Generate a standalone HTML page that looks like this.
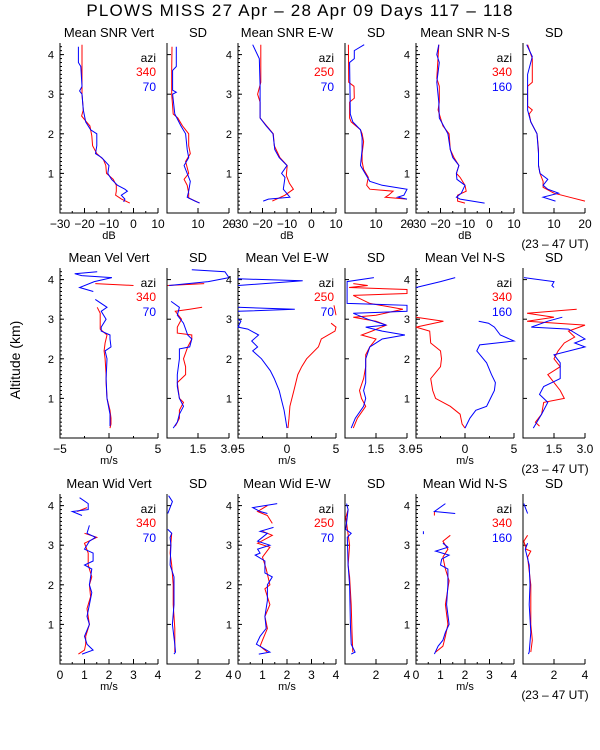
<!DOCTYPE html>
<html><head><meta charset="utf-8"><style>
body{margin:0;background:#fff;width:600px;height:750px;overflow:hidden}
svg{display:block;font-family:"Liberation Sans",sans-serif}
</style></head><body>
<svg id="chart" width="600" height="750" viewBox="0 0 600 750">
<rect width="600" height="750" fill="#fff"/>
<text x="300" y="16" text-anchor="middle" font-size="17" letter-spacing="1.2" fill="#000">PLOWS MISS  27 Apr – 28 Apr 09 Days 117 – 118</text>
<text transform="translate(20,360) rotate(-90)" text-anchor="middle" font-size="14" fill="#000">Altitude (km)</text>
<g id="plots"></g>
</svg>
<script>
// ---- data: [altitude km, value], null = gap ----
const snrVertRed=[[4.25,-21],[3.2,-21],[3.0,-21],[2.6,-20.5],[2.45,-21.2],[2.3,-19.2],[2.2,-17.8],[1.95,-17],[1.7,-16.7],[1.5,-15],[1.35,-12.3],[1.2,-11.3],[1.0,-11],[0.85,-8.3],[0.7,-7],[0.55,-7],[0.45,-7.3],[0.35,-4.9],[0.25,-1.5]];
const snrVertBlue=[[4.2,-22.5],[3.8,-22.5],[3.7,-21.5],[3.2,-21],[3.08,-22],[3.0,-21],[2.6,-20.5],[2.3,-19.5],[2.1,-17.5],[2.0,-15],[1.7,-15],[1.5,-15.5],[1.4,-13],[1.2,-10],[1.0,-10.5],[0.85,-9],[0.7,-6.5],[0.6,-3.5],[0.55,-2.5],[0.45,-5],[0.35,-3.5],[0.28,-4]];
const snrVertSdRed=[[4.2,1.6],[3.6,1.5],[3.0,1.5],[2.5,2],[2.4,3.5],[2.2,5],[2.0,7],[1.7,7],[1.5,7.5],[1.3,6],[1.0,7],[0.85,5.5],[0.7,6.5],[0.5,7],[0.38,7],[0.25,10.5]];
const snrVertSdBlue=[[4.2,3],[3.7,3],[3.6,1.8],[3.1,1.8],[3.05,3],[3.0,1.8],[2.5,2.5],[2.2,4.5],[2.0,6],[1.6,6.5],[1.4,7],[1.2,5.5],[1.0,6.5],[0.8,7.5],[0.55,7],[0.4,6.5],[0.3,9],[0.25,10.5]];
const snrEwRed=[[4.25,-20.7],[3.3,-20.7],[3.0,-22],[2.8,-21],[2.4,-21],[2.2,-18.3],[2.0,-15.6],[1.7,-15.2],[1.4,-12.9],[1.2,-9.9],[0.95,-10.3],[0.75,-9],[0.6,-7.4],[0.45,-10.8],[0.3,-16]];
const snrEwBlue=[[4.25,-24],[3.9,-21.3],[3.2,-21],[2.4,-21],[2.2,-18.5],[2.0,-15.7],[1.6,-15],[1.4,-13.2],[1.2,-10],[1.0,-12.2],[0.9,-10.8],[0.6,-11.5],[0.4,-8.8],[0.35,-17.6],[0.3,-19.7]];
const snrEwSdRed=[[4.25,1.1],[3.3,1.2],[3.2,2.9],[2.9,3],[2.8,1.5],[2.4,1.5],[2.3,2],[2.1,5],[2.0,5.5],[1.8,6],[1.5,5.5],[1.3,5.5],[1.1,6],[0.9,7.5],[0.7,7],[0.6,8],[0.55,15.5],[0.45,14],[0.4,13],[0.35,20]];
const snrEwSdBlue=[[4.25,6.2],[4.1,3],[3.9,3],[3.8,1.5],[2.5,1.7],[2.3,2.5],[2.1,5],[1.9,5.5],[1.6,5.5],[1.2,5],[1.0,6.5],[0.8,8],[0.7,12],[0.6,20],[0.45,19],[0.4,17],[0.35,20]];
const snrNsRed=[[4.25,-20.7],[3.4,-21.5],[3.2,-20.5],[2.8,-20.5],[2.6,-21],[2.2,-19],[2.0,-16.5],[1.6,-16],[1.4,-14.5],[1.2,-12.5],[1.0,-13.5],[0.9,-12],[0.7,-10],[0.55,-9.5],[0.45,-13],[0.3,-13],[0.25,-10]];
const snrNsBlue=[[4.25,-20.7],[4.0,-21.5],[3.8,-20.5],[3.3,-21.5],[2.8,-20.7],[2.4,-20.5],[2.0,-17],[1.6,-16],[1.4,-15],[1.2,-12.5],[1.0,-13.5],[0.85,-13.3],[0.7,-10],[0.5,-11.5],[0.4,-13.5],[0.35,-12],[0.25,-2]];
const snrNsSdRed=[[4.25,1.5],[3.9,3],[3.3,3],[3.2,1.5],[2.7,1.5],[2.6,3],[2.5,2],[2.3,2.5],[2.0,4.5],[1.6,5],[1.4,5],[1.2,5],[1.0,5.5],[0.8,6.5],[0.65,6.5],[0.5,10],[0.4,15],[0.3,20]];
const snrNsSdBlue=[[4.25,1.2],[3.95,3],[3.5,1.5],[2.6,1.5],[2.3,2.5],[2.0,4.5],[1.5,5],[1.2,5],[1.0,5.5],[0.85,8],[0.7,6.5],[0.6,8],[0.5,11.5],[0.4,6.5],[0.3,10.5]];
const velVertRed=[[3.9,-1.4],[3.85,2.5],null,[3.3,-1.2],[3.15,-0.9],[2.75,-0.9],[2.6,-0.2],[2.4,-0.4],[2.2,-0.5],[2.0,-0.4],[1.6,-0.3],[1.4,-0.3],[1.0,-0.2],[0.7,0.1],[0.5,0.2],[0.35,0.2],[0.25,0.1]];
const velVertBlue=[[4.2,-1.2],[4.15,-3.5],[4.1,-2.8],[4.05,0.3],[3.95,-1.5],[3.8,-3.0],[3.7,-1.6],null,[3.5,-1.4],[3.3,-0.2],[3.2,-0.8],[3.0,-0.3],[2.8,-0.8],[2.7,-0.8],[2.6,0.1],[2.5,0.1],[2.3,0.2],[2.2,-0.4],[2.0,-0.2],[1.5,-0.3],[1.0,-0.2],[0.6,0.1],[0.3,0.1]];
const velVertSdRed=[[3.9,1.8],[3.85,0.03],null,[3.3,1.7],[3.25,1.1],[3.2,0.4],[3.0,0.7],[2.8,0.5],[2.65,0.5],[2.6,1.2],[2.5,1.2],[2.3,1.0],[2.0,0.8],[1.8,0.9],[1.6,0.9],[1.4,0.5],[1.0,0.6],[0.9,0.8],[0.7,0.6],[0.5,0.6],[0.3,0.4]];
const velVertSdBlue=[[4.25,1.2],[4.2,2.8],[4.05,3.0],[3.95,2.0],[3.85,0.1],null,[3.45,0.2],[3.3,0.6],[3.1,0.5],[2.9,0.8],[2.6,1.0],[2.5,1.2],[2.3,1.1],[2.25,0.6],[2.0,0.6],[1.6,0.5],[1.3,0.5],[1.0,0.6],[0.8,0.8],[0.6,0.6],[0.4,0.5],[0.25,0.3]];
const velEwRed=[[3.35,4.8],[3.1,5],null,[2.9,4.5],[2.8,5],[2.7,4.9],[2.5,3.5],[2.3,3.2],[2.0,2.0],[1.8,1.5],[1.6,1.1],[1.2,0.7],[0.8,0.3],[0.5,0.2],[0.25,0.1]];
const velEwBlue=[[4.02,-5],[3.97,1.6],[3.85,-5],null,[3.3,-5],[3.25,0.8],[3.2,-5],null,[3.0,-5],[2.95,-4.7],[2.8,-5],[2.75,-4],[2.6,-2.9],[2.45,-3.6],[2.3,-3.0],[2.2,-3.5],[2.0,-2.6],[1.7,-1.7],[1.5,-1.3],[1.2,-0.8],[1.0,-0.6],[0.7,-0.3],[0.25,0]];
const velEwSdRed=[[3.9,0.4],[3.85,1.1],[3.8,0.2],[3.75,3],[3.65,3],[3.6,0.4],[3.4,1.2],[3.25,2.8],[3.1,1.5],[3.05,0.4],[2.95,1.5],[2.85,2.0],[2.7,1.3],[2.6,0.8],[2.5,1.5],[2.3,1.2],[2.1,1.0],[1.8,1.0],[1.5,0.9],[1.2,0.7],[1.0,0.8],[0.8,1.0],[0.5,0.6],[0.25,0.4]];
const velEwSdBlue=[[4.05,1.4],[3.95,0.1],[3.4,0.1],[3.35,3.0],[3.2,3.0],[3.15,0.4],[3.0,1.1],[2.85,2.0],[2.8,1.0],[2.7,1.8],[2.6,2.9],[2.5,1.8],[2.3,1.2],[2.0,1.0],[1.7,1.0],[1.4,1.0],[1.2,0.9],[1.0,1.0],[0.8,0.9],[0.5,0.5],[0.25,0.3]];
const velNsRed=[[3.05,-5],[2.95,-2.2],[2.8,-5],[2.7,-3.6],[2.4,-3.5],[2.2,-2.5],[2.0,-2.4],[1.8,-2.5],[1.5,-3.5],[1.2,-3.3],[1.0,-3.0],[0.8,-1.5],[0.6,-0.5],[0.35,-0.3],[0.25,0]];
const velNsBlue=[[4.05,-1.0],[3.95,-2.5],[3.8,-5],null,[2.95,1.4],[2.9,2.4],[2.8,3.0],[2.6,3.6],[2.45,5],[2.35,1.5],[2.2,1.2],[1.9,2.2],[1.6,2.7],[1.4,3.1],[1.2,3.0],[1.0,2.6],[0.8,2.2],[0.7,1.1],[0.5,0.5],[0.25,0]];
const velNsSdRed=[[3.25,2.6],[3.15,0.2],[3.05,1.5],[2.95,0.2],[2.85,3.0],[2.7,2.2],[2.55,2.5],[2.4,2.0],[2.2,1.7],[2.0,1.5],[1.8,1.8],[1.6,1.2],[1.2,1.8],[1.0,2.0],[0.9,1.0],[0.6,0.9],[0.4,0.6],[0.3,0.8]];
const velNsSdBlue=[[4.05,0.05],[3.95,1.5],[3.85,1.4],[3.8,1.5],null,[3.05,1.9],[2.95,1.2],[2.8,0.4],[2.75,2.2],[2.5,3.0],[2.4,2.5],[2.3,3.0],[2.1,1.5],[1.9,1.8],[1.5,1.8],[1.3,1.0],[1.1,0.8],[0.9,1.2],[0.6,0.9],[0.25,0.5]];
const widVertRed=[[3.95,1.1],[3.85,0.7],null,[3.3,1.0],[3.2,1.5],[3.05,1.0],[2.8,1.15],[2.5,1.15],[2.2,1.3],[2.0,1.2],[1.7,1.25],[1.4,1.1],[1.0,1.2],[0.7,1.05],[0.5,1.05],[0.35,1.0],[0.25,0.75]];
const widVertBlue=[[4.2,0.8],[4.05,1.15],[3.9,1.15],[3.85,0.5],[3.75,0.9],null,[3.5,1.2],[3.3,1.1],[3.2,1.45],[3.1,1.2],[2.9,1.0],[2.8,1.35],[2.6,1.35],[2.5,1.0],[2.4,1.3],[2.0,1.2],[1.8,1.3],[1.5,1.2],[1.2,1.1],[1.0,1.2],[0.7,1.0],[0.5,1.1],[0.35,1.35],[0.25,0.9]];
const widVertSdRed=[[3.3,0.3],[2.8,0.2],[2.5,0.3],[2.0,0.4],[1.5,0.4],[0.9,0.5],[0.3,0.5]];
const widVertSdBlue=[[4.25,0.1],[4.1,0.35],[3.8,0.05],null,[3.4,0.05],[3.3,0.3],[3.2,0.2],[3.0,0.25],[2.5,0.2],[2.2,0.45],[1.5,0.45],[1.0,0.35],[0.5,0.5],[0.3,0.55],[0.25,0.45]];
const widEwRed=[[4.0,1.2],[3.85,0.8],[3.75,1.2],[3.55,1.4],null,[3.35,1.0],[3.25,1.4],[3.05,0.8],[2.95,1.3],[2.7,1.0],[2.4,1.15],[2.0,1.3],[1.9,1.1],[1.5,1.3],[1.2,1.1],[0.9,1.2],[0.6,1.0],[0.45,0.9],[0.3,1.2]];
const widEwBlue=[[4.05,1.6],[3.95,0.6],[3.85,0.9],[3.8,1.2],null,[3.45,1.45],[3.35,0.9],[3.3,1.2],[3.1,0.8],[3.0,1.3],[2.9,0.8],[2.8,0.9],[2.75,0.7],[2.6,1.1],[2.3,1.1],[2.2,1.4],[2.0,1.2],[1.6,1.2],[1.2,1.1],[0.9,1.15],[0.7,0.9],[0.5,0.75],[0.3,1.3],[0.25,0.85]];
const widEwSdRed=[[3.9,0.2],[3.7,0.05],[3.0,0.3],[2.5,0.2],[2.2,0.3],[1.5,0.4],[0.8,0.45],[0.3,0.5]];
const widEwSdBlue=[[4.05,0.1],[3.9,0.2],[3.4,0.05],[3.3,0.4],[3.2,0.15],[2.5,0.2],[2.0,0.3],[1.0,0.35],[0.5,0.4],[0.3,0.65],[0.25,0.4]];
const widNsRed=[[3.85,0.75],[3.75,0.75],null,[3.25,1.4],[3.1,1.1],[2.9,1.3],[2.7,1.1],[2.4,1.2],[2.1,1.35],[1.5,1.2],[1.0,1.3],[0.7,1.2],[0.45,1.1],[0.3,0.8]];
const widNsBlue=[[4.05,1.2],[3.85,0.75],[3.8,1.6],null,[3.35,0.3],[3.28,0.3],null,[3.05,1.1],[2.95,1.3],[2.85,0.8],[2.75,1.35],[2.65,1.05],[2.5,1.0],[2.4,1.3],[2.0,1.3],[1.5,1.25],[1.0,1.35],[0.8,1.2],[0.6,1.1],[0.45,0.9],[0.25,0.75]];
const widNsSdRed=[[3.25,0.3],[3.1,0.05],[2.9,0.2],[2.85,0.5],[2.7,0.3],[2.0,0.5],[1.0,0.5],[0.6,0.6],[0.3,0.5]];
const widNsSdBlue=[[4.05,0.05],[3.8,0.3],null,[3.05,0.3],[2.9,0.15],[2.5,0.4],[2.0,0.45],[1.5,0.4],[0.8,0.5],[0.3,0.4],[0.25,0.35]];

const rowTitles=[["Mean SNR Vert","Mean SNR E-W","Mean SNR N-S"],["Mean Vel Vert","Mean Vel E-W","Mean Vel N-S"],["Mean Wid Vert","Mean Wid E-W","Mean Wid N-S"]];
const aziRed=["340","250","340"];
const aziBlue=["70","70","160"];
const yTicks=[1,2,3,4];
const meanDomains=[[-30,10],[-5,5],[0,4]];
const sdDomains=[[0,20],[0,3],[0,4]];
const meanTicks=[[-30,-20,-10,0,10],[-5,0,5],[0,1,2,3,4]];
const meanTickLabels=[["−30","−20","−10","0","10"],["−5","0","5"],["0","1","2","3","4"]];
const sdTicks=[[10,20],[1.5,3],[2,4]];
const sdTickLabels=[["10","20"],["1.5","3.0"],["2","4"]];
const units=["dB","m/s","m/s"];
const series=[
 [[snrVertRed,snrVertBlue,snrVertSdRed,snrVertSdBlue],[snrEwRed,snrEwBlue,snrEwSdRed,snrEwSdBlue],[snrNsRed,snrNsBlue,snrNsSdRed,snrNsSdBlue]],
 [[velVertRed,velVertBlue,velVertSdRed,velVertSdBlue],[velEwRed,velEwBlue,velEwSdRed,velEwSdBlue],[velNsRed,velNsBlue,velNsSdRed,velNsSdBlue]],
 [[widVertRed,widVertBlue,widVertSdRed,widVertSdBlue],[widEwRed,widEwBlue,widEwSdRed,widEwSdBlue],[widNsRed,widNsBlue,widNsSdRed,widNsSdBlue]]];

const NS="http://www.w3.org/2000/svg";
const root=document.getElementById("plots");
const rowBottom=[213,438,664], kmPx=39.6, plotH=170;
function mk(tag,attrs,parent){const e=document.createElementNS(NS,tag);for(const k in attrs)e.setAttribute(k,attrs[k]);(parent||root).appendChild(e);return e;}
function txt(x,y,s,size,anchor,fill,parent){const t=mk("text",{x:x,y:y,"font-size":size,"text-anchor":anchor,fill:fill},parent);t.textContent=s;return t;}
function yScale(r){return a=>rowBottom[r]-a*kmPx;}
function xScale(d,x0,w){return v=>x0+(v-d[0])/(d[1]-d[0])*w;}
function drawLine(data,xs,ys,color,g,name){
  let d="",pen=false;
  data.forEach(p=>{if(!p){pen=false;return;}d+=(pen?"L":"M")+xs(p[1]).toFixed(1)+" "+ys(p[0]).toFixed(1);pen=true;});
  const path=mk("path",{d:d,fill:"none",stroke:color,"stroke-width":1},g);
  
  
}
function panel(r,x0,w,dom,ticks,labels,isMean,title,lines,c){
  const g=mk("g",{});
  
  
  const ys=yScale(r), xs=xScale(dom,x0,w), bot=rowBottom[r], top=bot-plotH;
  const t=txt(x0+w/2,top-6,title,13,"middle","#000",g);
  
  
  mk("path",{d:`M${x0} ${top}V${bot}H${x0+w}`,stroke:"#000","stroke-width":1,fill:"none"},g);
  yTicks.forEach(a=>{
    mk("line",{x1:x0,x2:x0+4,y1:ys(a),y2:ys(a),stroke:"#000"},g);
    if(isMean){const l=txt(x0-6,ys(a)+4,String(a),11,"end","#000",g);
      
      }
  });
  if(isMean){
    for(let a=0.1;a<4.3;a+=0.1){mk("line",{x1:x0,x2:x0+2,y1:ys(a),y2:ys(a),stroke:"#000"},g);}
    const step=(ticks[1]-ticks[0])/2;
    for(let v=dom[0];v<=dom[1]+1e-9;v+=step){mk("line",{x1:xs(v),x2:xs(v),y1:bot,y2:bot-2,stroke:"#000"},g);}
  }
  ticks.forEach((v,i)=>{
    mk("line",{x1:xs(v),x2:xs(v),y1:bot,y2:bot-5,stroke:"#000"},g);
    const l=txt(xs(v),bot+15,labels[i],12,"middle","#000",g);
    
    
  });
  drawLine(lines[0],xs,ys,"#f00",g,"series-red");
  drawLine(lines[1],xs,ys,"#00f",g,"series-blue");
}
for(let r=0;r<3;r++){
  for(let c=0;c<3;c++){
    const mx=60+178*c, sx=167+178*c, s=series[r][c], bot=rowBottom[r], top=bot-plotH;
    panel(r,mx,98,meanDomains[r],meanTicks[r],meanTickLabels[r],true,rowTitles[r][c],[s[0],s[1]],c);
    panel(r,sx,62,sdDomains[r],sdTicks[r],sdTickLabels[r],false,"SD",[s[2],s[3]],c);
    const u=txt(mx+49,bot+26,units[r],11,"middle","#000");
    
    
    const a1=txt(mx+96,top+19,"azi",12,"end","#000");
    
    
    const a2=txt(mx+96,top+33,aziRed[c],12,"end","#f00");
    
    
    const a3=txt(mx+96,top+48,aziBlue[c],12,"end","#00f");
    
    
  }
  const ut=txt(555,rowBottom[r]+35,"(23 – 47 UT)",12,"middle","#000");
  
  
}
</script>
</body></html>
